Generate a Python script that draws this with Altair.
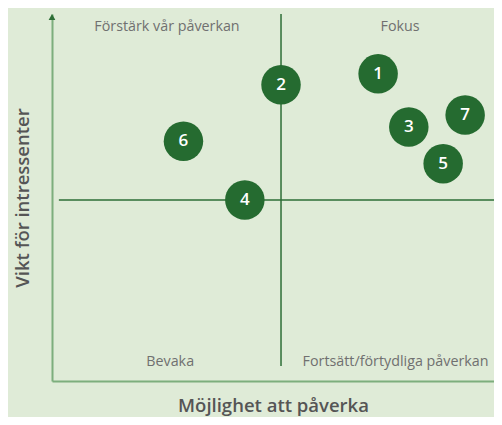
import altair as alt
import pandas as pd

# Topics (numbered circles), positioned on the two axes
ids = ["1", "2", "3", "4", "5", "6", "7"]
x_vals = [7.12, 5.00, 7.79, 4.21, 8.54, 2.87, 9.02]   # Möjlighet att påverka
y_vals = [8.37, 8.08, 6.95, 5.00, 5.97, 6.57, 7.27]   # Vikt för intressenter

# Quadrant names and their anchor points
quad_names = ["Förstärk vår påverkan", "Fokus", "Bevaka", "Fortsätt/förtydliga påverkan"]
quad_x = [2.51, 7.6, 2.58, 7.5]
quad_y = [9.62, 9.62, 0.66, 0.66]

X_MAX = 9.65
Y_MIN = 0.16
Y_MAX = 9.97
MID = 5.0

FONT = "Open Sans"
DARK = "#256b30"
BG = "#dfebd7"

pts = pd.DataFrame({"id": ids, "x": x_vals, "y": y_vals})
quads = pd.DataFrame({"name": quad_names, "x": quad_x, "y": quad_y})

xs = alt.Scale(domain=[0, X_MAX], nice=False, zero=False)
ys = alt.Scale(domain=[Y_MIN, Y_MAX], nice=False, zero=False)

xaxis = alt.Axis(title="Möjlighet att påverka", labels=False, ticks=False, grid=False,
                 domain=True, domainColor="#7dae7d", domainWidth=2,
                 titleFont=FONT, titleFontSize=18.5, titleFontWeight=600,
                 titleColor="#555555", titlePadding=15)
yaxis = alt.Axis(title="Vikt för intressenter", labels=False, ticks=False, grid=False,
                 domain=True, domainColor="#7dae7d", domainWidth=2,
                 titleFont=FONT, titleFontSize=18.5, titleFontWeight=600,
                 titleColor="#555555", titlePadding=20)

X = lambda: alt.X("x:Q", scale=xs, axis=xaxis)
Y = lambda: alt.Y("y:Q", scale=ys, axis=yaxis)

vline = alt.Chart(pd.DataFrame({"x": [MID], "y": [0.56], "y2": [Y_MAX]})).mark_rule(
    color="#2d6e36", strokeWidth=1.5
).encode(x=X(), y=Y(), y2="y2:Q")

hline = alt.Chart(pd.DataFrame({"y": [MID], "x": [0.15], "x2": [X_MAX]})).mark_rule(
    color="#2d6e36", strokeWidth=1.5
).encode(x=X(), x2="x2:Q", y=Y())

arrow = alt.Chart(pd.DataFrame({"x": [0.0], "y": [Y_MAX]})).mark_point(
    shape="triangle-up", filled=True, color="#2d6e36", size=45, opacity=1, yOffset=3
).encode(x=X(), y=Y())

qtext = alt.Chart(quads).mark_text(
    font=FONT, fontSize=14.3, color="#707070", baseline="middle", align="center"
).encode(x=X(), y=Y(), text="name:N")

circles = alt.Chart(pts).mark_circle(size=1560, color=DARK, opacity=1).encode(x=X(), y=Y())

labels = alt.Chart(pts).mark_text(
    font=FONT, fontSize=17, fontWeight=600, color="white", baseline="middle", align="center"
).encode(x=X(), y=Y(), text="id:N")

chart = alt.layer(vline, hline, arrow, qtext, circles, labels).properties(
    width=442, height=367,
    autosize=alt.AutoSizeParams(type="none"),
    padding={"left": 44, "top": 6, "right": 0, "bottom": 36},
    background=BG,
).configure_view(stroke=None)

chart.save("out.html", embed_options={"renderer": "svg", "actions": False})
